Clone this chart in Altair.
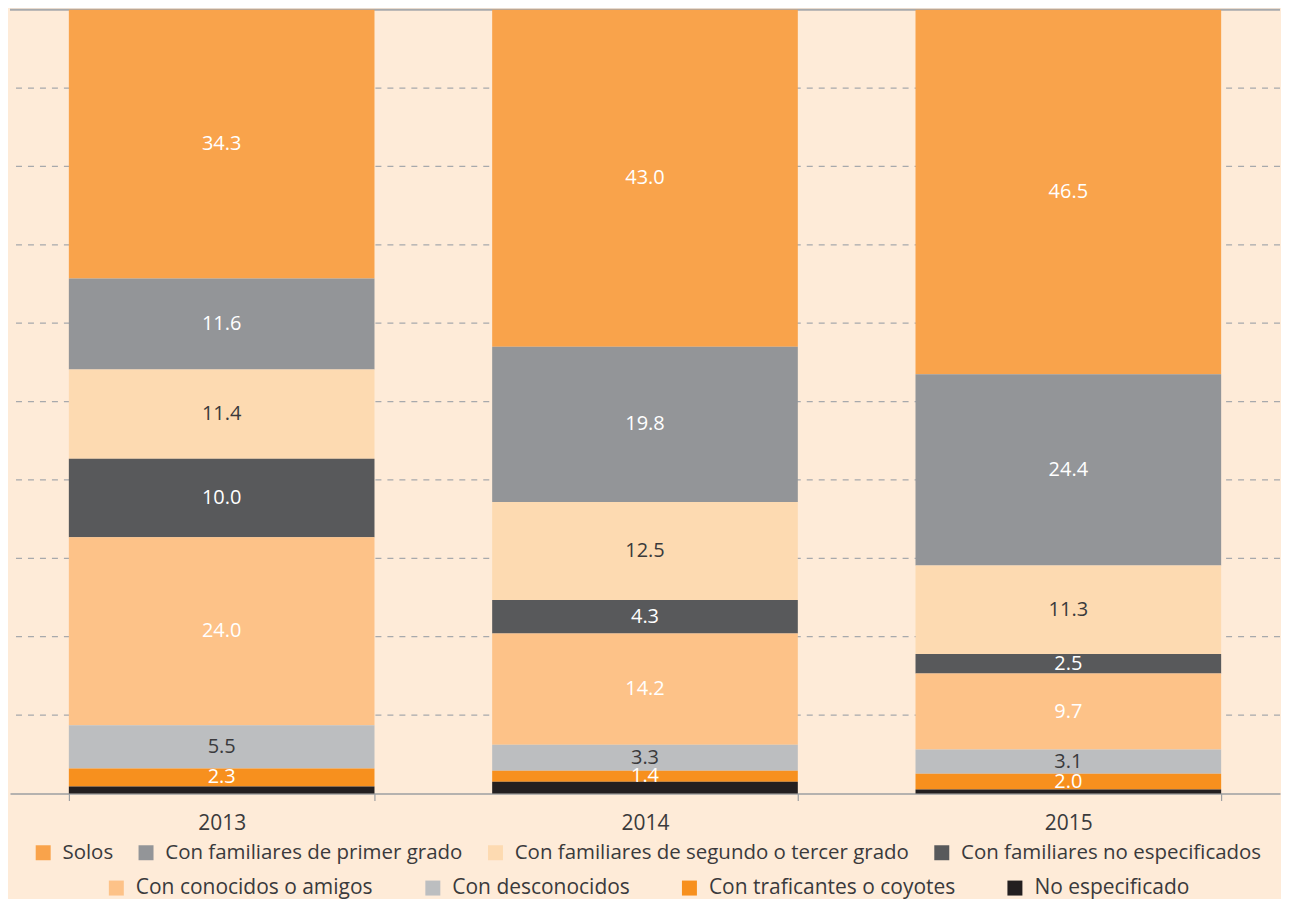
import altair as alt
import pandas as pd

years = ["2013", "2014", "2015"]
categories = [
    "Solos",
    "Con familiares de primer grado",
    "Con familiares de segundo o tercer grado",
    "Con familiares no especificados",
    "Con conocidos o amigos",
    "Con desconocidos",
    "Con traficantes o coyotes",
    "No especificado",
]
colors = ["#F9A34B", "#939598", "#FDDAB1", "#58595B", "#FDC288", "#BCBEC0", "#F7901E", "#231F20"]
values = {
    "2013": [34.3, 11.6, 11.4, 10.0, 24.0, 5.5, 2.3, 0.9],
    "2014": [43.0, 19.8, 12.5, 4.3, 14.2, 3.3, 1.4, 1.5],
    "2015": [46.5, 24.4, 11.3, 2.5, 9.7, 3.1, 2.0, 0.5],
}
dark_label_cats = ["Con familiares de segundo o tercer grado", "Con desconocidos"]
no_label_cats = ["No especificado"]

rows = []
for y in years:
    for i, c in enumerate(categories):
        rows.append({"year": y, "cat": c, "idx": i, "value": values[y][i],
                     "label": f"{values[y][i]:.1f}" if c not in no_label_cats else "",
                     "lcolor": "#3A3A3C" if c in dark_label_cats else "#FFFFFF"})
df = pd.DataFrame(rows)

FONT = "Open Sans"
BG = "#FEEBD8"

xscale = alt.Scale(paddingInner=0.278, paddingOuter=0.139)
yscale = alt.Scale(domain=[0, 100], nice=False, zero=True)

base = alt.Chart(df).transform_stack(
    stack="value", as_=["y0", "y1"], groupby=["year"],
    sort=[alt.SortField("idx", order="descending")]
)

xenc = alt.X("year:N", scale=xscale, title=None,
             axis=alt.Axis(labelAngle=0, labelFont=FONT, labelFontSize=21, labelColor="#3A3A3C",
                           labelPadding=12, tickBand="extent", tickSize=7, tickColor="#9D9FA2",
                           domainColor="#9D9FA2", domainWidth=1.5, tickWidth=1.2))

grid = alt.Chart(pd.DataFrame({"g": [10, 20, 30, 40, 50, 60, 70, 80, 90]})).mark_rule(
    color="#A7A9AC", strokeDash=[6, 6], strokeWidth=1.2
).encode(y=alt.Y("g:Q", scale=yscale, axis=None))

top = alt.Chart(pd.DataFrame({"t": [100]})).mark_rule(color="#A7A9AC", strokeWidth=2).encode(
    y=alt.Y("t:Q", scale=yscale, axis=None))

def legend_for(x, y, colpad, fs):
    return alt.Legend(orient="none", legendX=x, legendY=y, direction="horizontal", title=None,
                      labelFont=FONT, labelFontSize=fs, labelColor="#3A3A3C",
                      symbolType="square", symbolSize=225, symbolStrokeWidth=0,
                      labelOffset=9, columnPadding=colpad, labelLimit=600, padding=0)

barsA = base.transform_filter(alt.datum.idx < 4).mark_bar().encode(
    x=xenc,
    y=alt.Y("y0:Q", scale=yscale, axis=None),
    y2="y1:Q",
    color=alt.Color("cat:N", scale=alt.Scale(domain=categories[:4], range=colors[:4]),
                    legend=legend_for(23, 834, 22, 20.5), sort=categories[:4]),
)
barsB = base.transform_filter(alt.datum.idx >= 4).transform_calculate(cat2="datum.cat").mark_bar().encode(
    x=xenc,
    y=alt.Y("y0:Q", scale=yscale, axis=None),
    y2="y1:Q",
    color=alt.Color("cat2:N", scale=alt.Scale(domain=categories[4:], range=colors[4:]),
                    legend=legend_for(96, 869, 49, 21), sort=categories[4:]),
)

labels = base.transform_calculate(mid="(datum.y0 + datum.y1) / 2").mark_text(
    font=FONT, fontSize=20, baseline="middle", align="center"
).encode(
    x=xenc,
    y=alt.Y("mid:Q", scale=yscale, axis=None),
    text="label:N",
    color=alt.Color("lcolor:N", scale=None, legend=None),
)

chart = alt.layer(grid, top, barsA, barsB, labels).resolve_scale(color="independent").properties(
    width=1272, height=785, background=BG,
    padding={"left": 1, "top": 0, "right": 0, "bottom": 0},
).configure_view(stroke=None)

chart.save("out.html", embed_options={"renderer": "svg", "actions": False})
